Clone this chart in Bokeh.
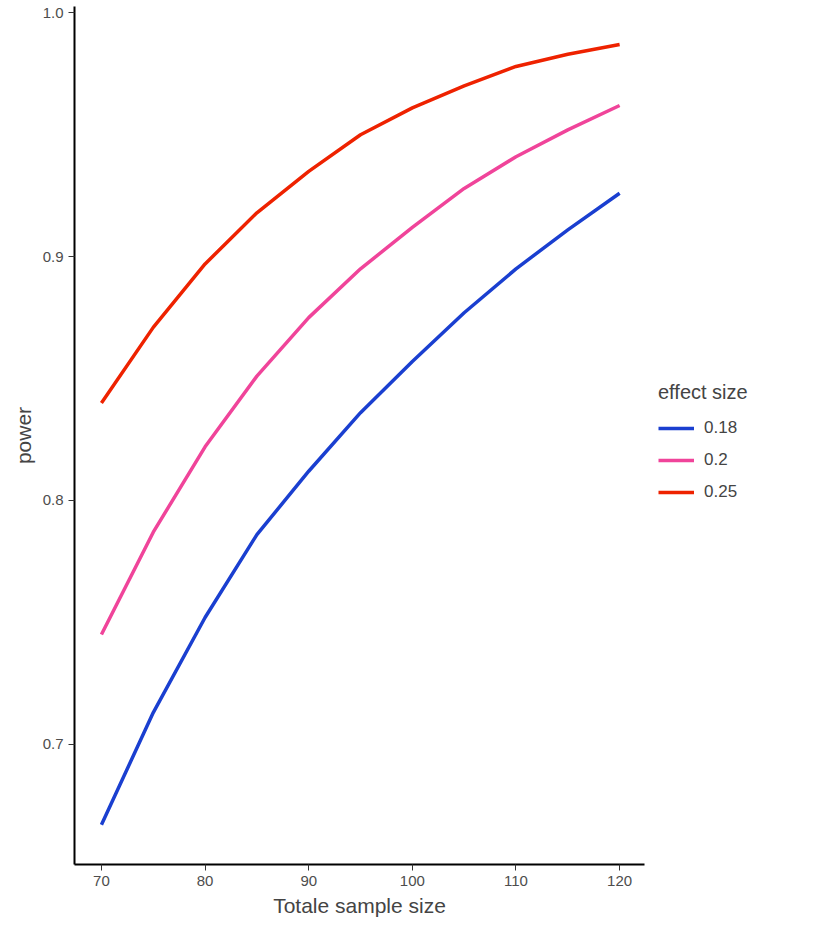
from bokeh.plotting import figure
from bokeh.models import Legend, Range1d, PrintfTickFormatter
from bokeh.embed import file_html
from bokeh.resources import INLINE

n = [70, 75, 80, 85, 90, 95, 100, 105, 110, 115, 120]
p018 = [0.667, 0.713, 0.752, 0.786, 0.812, 0.836, 0.857, 0.877, 0.895, 0.911, 0.926]
p020 = [0.745, 0.787, 0.822, 0.851, 0.875, 0.895, 0.912, 0.928, 0.941, 0.952, 0.962]
p025 = [0.840, 0.871, 0.897, 0.918, 0.935, 0.950, 0.961, 0.970, 0.978, 0.983, 0.987]
labels = ["0.18", "0.2", "0.25"]
colors = ["#1a3fd0", "#f0449a", "#ee2200"]

p = figure(frame_width=570, frame_height=858, output_backend="svg", toolbar_location=None,
           x_range=Range1d(67.4, 122.4), y_range=Range1d(0.6507, 1.0026),
           min_border_left=74, min_border_top=6, min_border_bottom=55, min_border_right=10)
p.outline_line_color = None
p.xgrid.visible = False
p.ygrid.visible = False
items = []
for ys, lab, c in zip([p018, p020, p025], labels, colors):
    r = p.line(n, ys, line_color=c, line_width=3.5, line_join="round")
    items.append((lab, [r]))
leg = Legend(items=items, title="effect size", border_line_color=None,
             background_fill_alpha=0,
             label_text_font_size="17px", title_text_font_size="20px",
             label_text_font="Liberation Sans", title_text_font="Liberation Sans",
             title_text_font_style="normal",
             glyph_width=36, label_standoff=10, spacing=12, title_standoff=14,
             margin=0, padding=0, location=(14, 362))
p.add_layout(leg, "right")
p.xaxis.ticker = [70, 80, 90, 100, 110, 120]
p.yaxis.ticker = [0.7, 0.8, 0.9, 1.0]
p.yaxis.formatter = PrintfTickFormatter(format="%.1f")
for ax in (p.xaxis, p.yaxis):
    ax.axis_line_width = 2
    ax.axis_line_color = "black"
    ax.major_tick_line_color = "#333333"
    ax.minor_tick_line_color = None
    ax.major_tick_in = 0
    ax.major_tick_out = 6
    ax.major_label_text_font_size = "15px"
    ax.major_label_text_color = "#4d4d4d"
    ax.axis_label_text_font_size = "21px"
    ax.axis_label_text_font_style = "normal"
    ax.axis_label_text_font = "Liberation Sans"
    ax.major_label_text_font = "Liberation Sans"
p.xaxis.axis_label = "Totale sample size"
p.yaxis.axis_label = "power"

open("out.html", "w").write(file_html(p, INLINE))
